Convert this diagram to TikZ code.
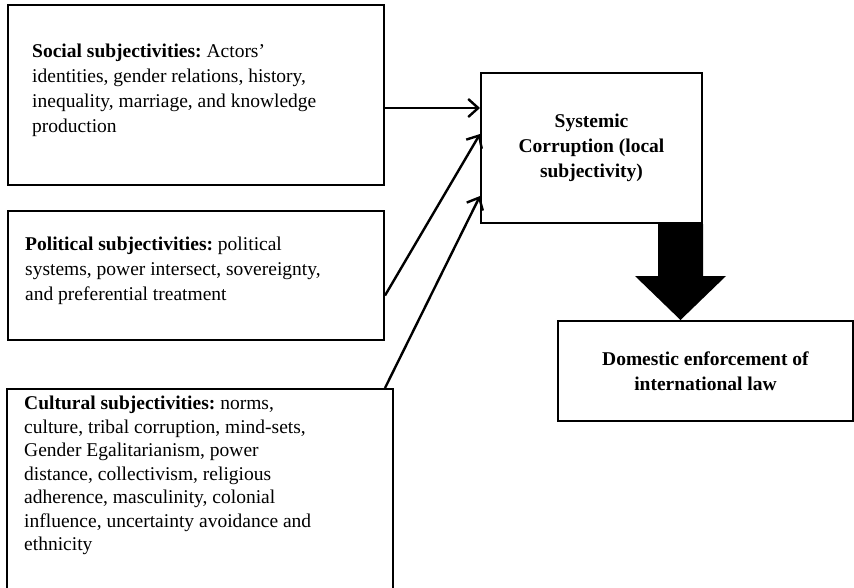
\documentclass[tikz,border=0pt]{standalone}
\usepackage{fontspec}
\setmainfont{Liberation Serif}
\usetikzlibrary{arrows.meta}
\frenchspacing

\begin{document}
\begin{tikzpicture}[x=1pt,y=-1pt,
    >={Straight Barb[length=10pt,width=18pt]},
    box/.style={draw,line width=2pt,inner sep=0pt,anchor=north west},
    txt/.style={font=\fontsize{19.5}{25}\selectfont,align=left},
    flow/.style={->,line width=2.4pt}]
  \path[use as bounding box,fill=white] (0,0) rectangle (854,587);
  \node[box,minimum width=376,minimum height=180] (soc) at (7,4) {};
  \node[txt,anchor=north west,inner sep=0pt] (soctxt) at ([xshift=25pt,yshift=-40pt]soc.north west)
    {\textbf{Social subjectivities:} Actors'\\identities, gender relations, history,\\inequality, marriage, and knowledge\\production};
  \node[box,minimum width=376,minimum height=129] (pol) at (7,210) {};
  \node[txt,anchor=north west,inner sep=0pt] (poltxt) at ([xshift=18pt,yshift=-27pt]pol.north west)
    {\textbf{Political subjectivities:} political\\systems, power intersect, sovereignty,\\and preferential treatment};
  \node[box,minimum width=386,minimum height=220] (cul) at (6,388) {};
  \node[txt,font=\fontsize{19.5}{23.5}\selectfont,anchor=north west,inner sep=0pt] (cultxt) at ([xshift=18pt,yshift=-8pt]cul.north west)
    {\textbf{Cultural subjectivities:} norms,\\culture, tribal corruption, mind-sets,\\Gender Egalitarianism, power\\distance, collectivism, religious\\adherence, masculinity, colonial\\influence, uncertainty avoidance and\\ethnicity};
  \node[box,txt,align=center,minimum width=221,minimum height=150] (sys) at (480,72)
    {\textbf{Systemic}\\\textbf{Corruption (local}\\\textbf{subjectivity)}};
  \node[box,txt,align=center,minimum width=295,minimum height=100] (dom) at (557,320)
    {\textbf{Domestic enforcement of}\\\textbf{international law}};
  \draw[flow] ([yshift=-13pt]soc.east) -- ([yshift=-13pt]soc.east -| sys.west);
  \draw[flow] ([yshift=-20pt]pol.east) -- ([yshift=14pt]sys.west);
  \draw[flow] ([xshift=-9pt]cul.north east) -- ([yshift=-48pt]sys.west);
  \fill (sys.south east) -- ++(0,52) -- ++(23,0) -- ++(-45.5,44) -- ++(-45.5,-44) -- ++(23,0) -- ++(0,-52) -- cycle;
\end{tikzpicture}
\end{document}
